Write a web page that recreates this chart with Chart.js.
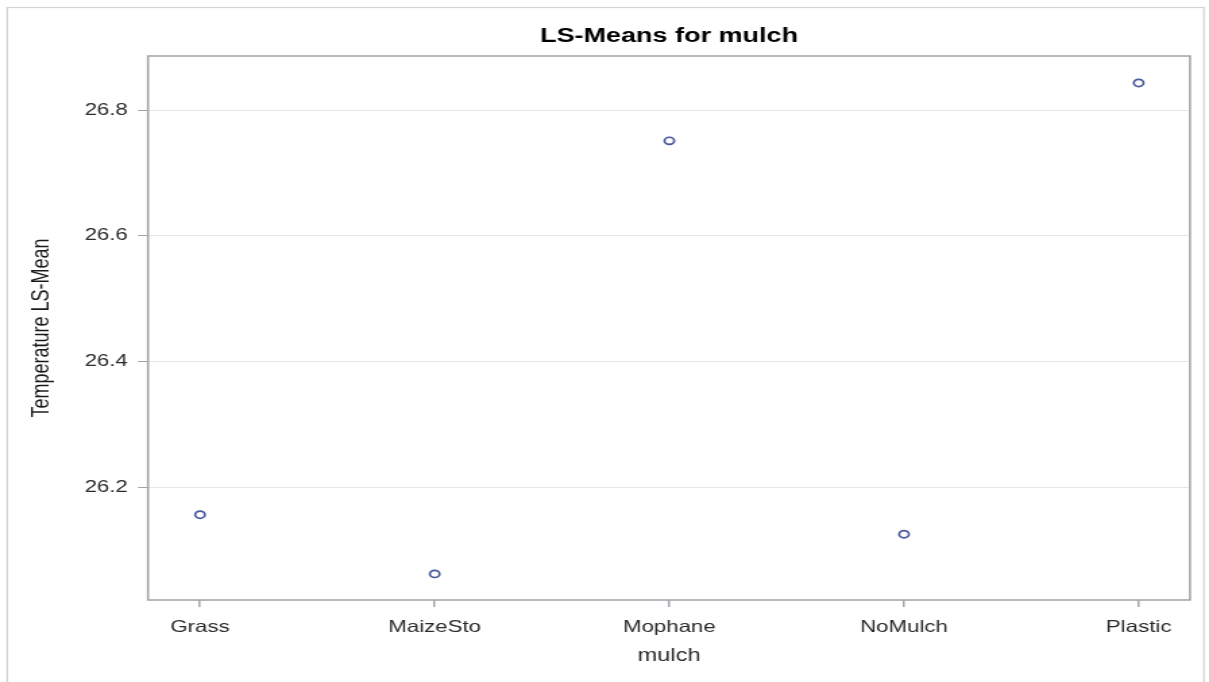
<!DOCTYPE html>
<html>
<head>
<meta charset="utf-8">
<script src="https://cdn.jsdelivr.net/npm/chart.js@4"></script>
<style>
  html, body { margin: 0; padding: 0; background: #fff; overflow: hidden; }
  #wrap { position: absolute; left: 0; top: 0; width: 896px; height: 682px;
          transform: scaleX(1.34933); transform-origin: 0 0; }
</style>
</head>
<body>
<div id="wrap"><canvas id="c"></canvas></div>
<script>
const titleText = 'LS-Means for mulch';
const xTitle = 'mulch';
const yTitle = 'Temperature LS-Mean';
const categories = ['Grass', 'MaizeSto', 'Mophane', 'NoMulch', 'Plastic'];
const lsMeans = [26.157, 26.063, 26.751, 26.126, 26.843];
const yTicks = [26.2, 26.4, 26.6, 26.8];
const yMin = 26.0215, yMax = 26.8858;
const xMin = -0.2216, xMax = 4.2186;

const FONT = 'Arial, "Liberation Sans", Helvetica, sans-serif';
const AXIS = '#a3a7ac';

const framePlugin = {
  id: 'frame',
  beforeDraw(chart) {
    const ctx = chart.ctx;
    ctx.save();
    ctx.fillStyle = '#ffffff';
    ctx.fillRect(0, 0, chart.width, chart.height);
    ctx.strokeStyle = '#d2d2d2';
    ctx.lineWidth = 1.2;
    ctx.strokeRect(5.4, 7.5, 886.8, 700);
    ctx.restore();
  },
  beforeDatasetsDraw(chart) {
    const {ctx, chartArea: a} = chart;
    ctx.save();
    ctx.strokeStyle = AXIS;
    ctx.lineWidth = 1.6;
    ctx.strokeRect(a.left, a.top, a.right - a.left, a.bottom - a.top);
    ctx.restore();
  }
};

new Chart(document.getElementById('c'), {
  type: 'scatter',
  data: {
    datasets: [{
      label: 'LS-Mean',
      data: lsMeans.map((v, i) => ({x: i, y: v})),
      showLine: false,
      pointStyle: 'circle',
      pointRadius: 3.6,
      pointHoverRadius: 3.6,
      pointBorderWidth: 1.7,
      pointBorderColor: '#4a5a9c',
      pointBackgroundColor: '#ffffff'
    }]
  },
  options: {
    responsive: true,
    maintainAspectRatio: false,
    animation: false,
    events: [],
    layout: { padding: { left: 0, right: 14.1, top: 0, bottom: 0 } },
    plugins: {
      legend: { display: false },
      tooltip: { enabled: false },
      title: {
        display: true,
        text: titleText,
        fullSize: false,
        color: '#000',
        font: { family: FONT, size: 20, weight: 'bold', lineHeight: 1.2 },
        padding: { top: 24, bottom: 8 }
      }
    },
    scales: {
      x: {
        type: 'linear',
        position: 'bottom',
        min: xMin, max: xMax,
        afterBuildTicks(s) { s.ticks = categories.map((c, i) => ({value: i})); },
        afterFit(s) { s.height = 82; },
        ticks: {
          autoSkip: false,
          maxRotation: 0,
          padding: 10.5,
          color: '#2a2a2a',
          font: { family: FONT, size: 16.5 },
          callback: (v) => categories[v]
        },
        grid: { color: 'rgba(0,0,0,0)', tickColor: AXIS, tickLength: 7, lineWidth: 1.5, drawTicks: true },
        border: { display: false },
        title: {
          display: true, text: xTitle, color: '#2a2a2a',
          font: { family: FONT, size: 17.5, lineHeight: 1.2 },
          padding: { top: 0, bottom: 15 }
        }
      },
      y: {
        type: 'linear',
        position: 'left',
        min: yMin, max: yMax,
        afterBuildTicks(s) { s.ticks = yTicks.map(v => ({value: v})); },
        afterFit(s) { s.width = 109.7; },
        ticks: {
          padding: 7.4,
          color: '#2a2a2a',
          font: { family: FONT, size: 16.5 },
          callback: (v) => v.toFixed(1)
        },
        grid: { color: '#e6e6e6', tickColor: AXIS, tickLength: 7.5, lineWidth: 1, drawTicks: true },
        border: { display: false },
        title: {
          display: true, text: yTitle, color: '#1a1a1a',
          font: { family: FONT, size: 18, lineHeight: 1.2 },
          padding: { top: 20.3, bottom: 0 }
        }
      }
    }
  },
  plugins: [framePlugin]
});
</script>
</body>
</html>
